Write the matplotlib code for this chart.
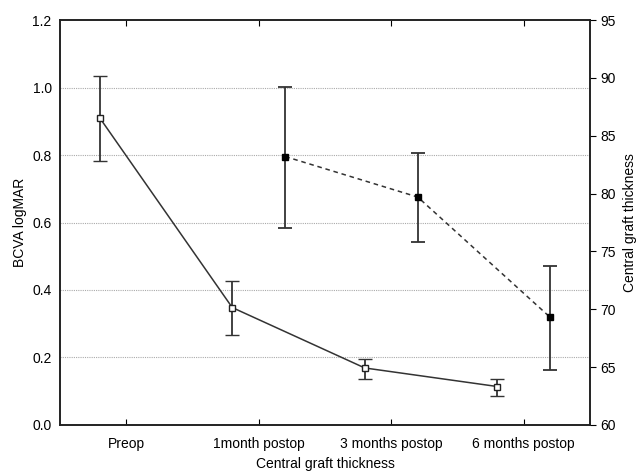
import numpy as np
import matplotlib
matplotlib.use("Agg")
import matplotlib.pyplot as plt

plt.rcParams['font.family'] = ['Liberation Sans', 'DejaVu Sans']

# categories and values
categories = ['Preop', '1month postop', '3 months postop', '6 months postop']
bcva_mean = [0.91, 0.348, 0.169, 0.114]
bcva_low = [0.783, 0.267, 0.137, 0.086]
bcva_high = [1.033, 0.427, 0.195, 0.137]

thick_idx = [1, 2, 3]
thick_mean = [83.2, 79.7, 69.3]
thick_low = [77.0, 75.8, 64.75]
thick_high = [89.2, 83.5, 73.75]

x = np.arange(len(categories))
bcva_mean = np.array(bcva_mean)
thick_mean = np.array(thick_mean)

fig = plt.figure(figsize=(6.37, 4.72), dpi=100)
ax = fig.add_axes([0.0942, 0.0996, 0.832, 0.858])

# left axis: BCVA
bcva_err = [bcva_mean - np.array(bcva_low), np.array(bcva_high) - bcva_mean]
ax.errorbar(x - 0.2, bcva_mean, yerr=bcva_err, color='#333333', lw=1.1,
            elinewidth=1.3, capsize=5, capthick=1.3, marker='s', ms=5,
            mfc='white', mec='#222222', mew=1.0, zorder=3)
ax.set_ylim(0, 1.2)
ax.set_yticks(np.arange(0, 1.21, 0.2))
ax.set_yticklabels(['%.1f' % v for v in np.arange(0, 1.21, 0.2)])
ax.set_xlim(-0.5, 3.5)
ax.set_xticks(x)
ax.set_xticklabels(categories)
for v in np.arange(0.2, 1.01, 0.2):
    ax.axhline(v, color='#aaaaaa', lw=0.8, ls=(0, (1, 1)), zorder=1)
ax.tick_params(axis='x', direction='in', top=True, length=4, pad=9, labelsize=10)
ax.tick_params(axis='y', length=0, pad=6, labelsize=10)
ax.set_ylabel('BCVA logMAR', fontsize=10)
ax.set_xlabel('Central graft thickness', fontsize=10, labelpad=4)

# right axis: graft thickness
ax2 = ax.twinx()
tx = np.array(thick_idx) + 0.2
thick_err = [thick_mean - np.array(thick_low), np.array(thick_high) - thick_mean]
ax2.errorbar(tx, thick_mean, yerr=thick_err, color='#333333', lw=1.1, ls=(0, (3, 2.5)),
             elinewidth=1.3, capsize=5, capthick=1.3, marker='s', ms=5,
             mfc='black', mec='black', zorder=3)
ax2.set_ylim(60, 95)
ax2.set_yticks(np.arange(60, 96, 5))
ax2.tick_params(axis='y', direction='out', length=4, labelsize=10)
ax2.set_ylabel('Central graft thickness', fontsize=10, labelpad=5)

for a in (ax, ax2):
    for s in a.spines.values():
        s.set_color('#222222')
        s.set_linewidth(1.2)

fig.savefig('out.png', dpi=100)
